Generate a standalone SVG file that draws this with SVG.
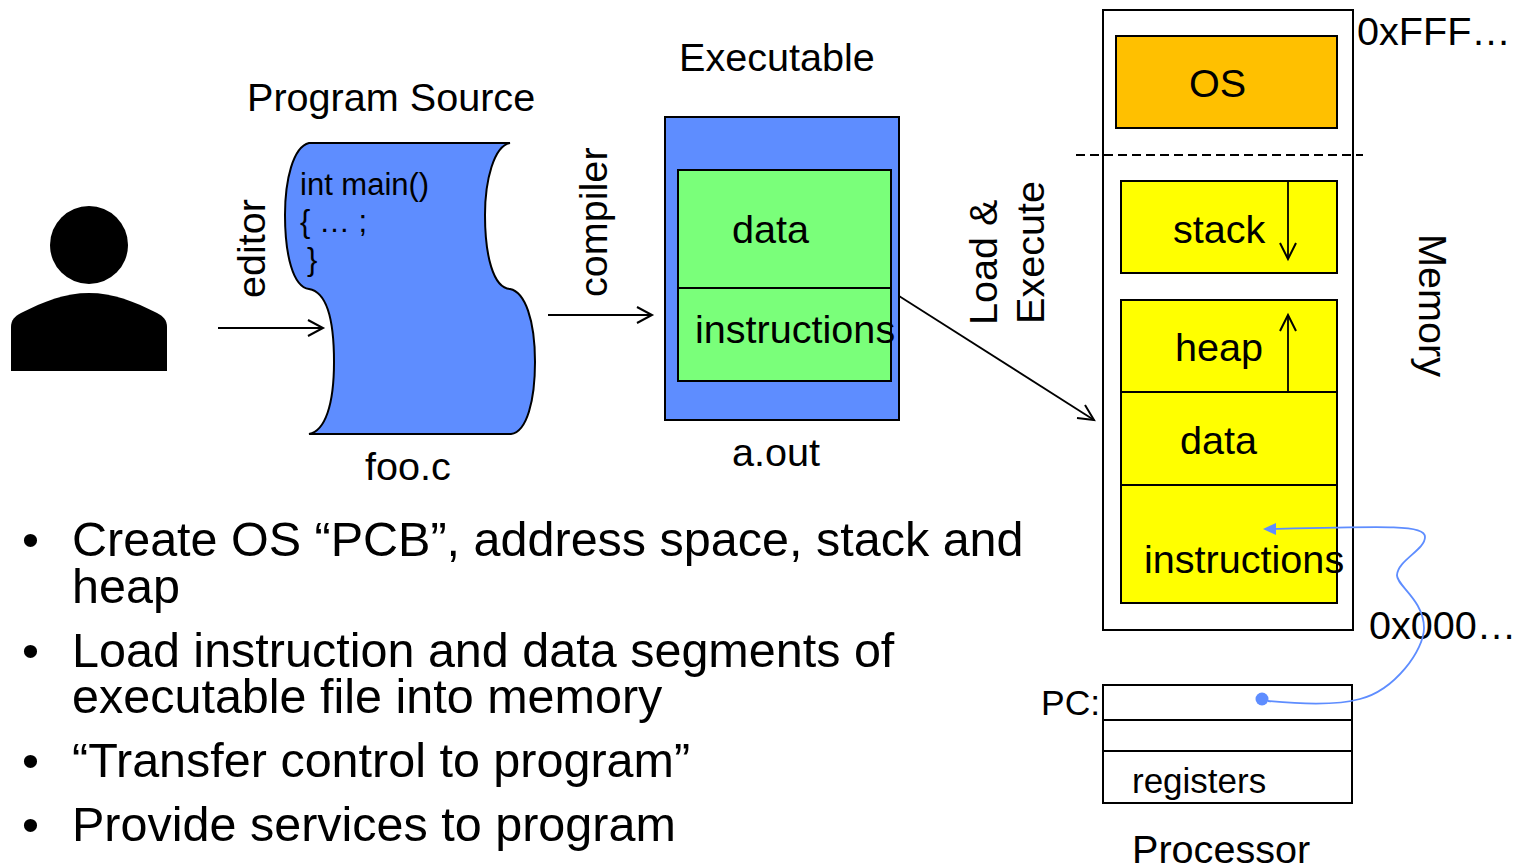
<svg xmlns="http://www.w3.org/2000/svg" width="1520" height="868" viewBox="0 0 1520 868">
<style>
text{font-family:"Liberation Sans",Arial,sans-serif;fill:#000}
.s{stroke:#000;stroke-width:2}
.l{font-size:39.6px}.m{font-size:35.5px}.b{font-size:48.5px}
.c{fill:none;stroke:#000;stroke-width:1.8}
.h{fill:none;stroke:#000;stroke-width:2}
</style>
<rect width="1520" height="868" fill="#fff"/>
<g id="user"><circle cx="89" cy="245" r="39"/><path d="M11 371V327C11 320 15 316 21 313C45 301 65 293 89 293C113 293 133 301 157 313C163 316 167 320 167 327V371Z"/></g>
<g id="source">
<path class="s" fill="#5e8dff" d="M309 143H510C494 146 485 180 485 215C485 255 493 288 510 289C525 292 535 320 535 362C535 400 527 432 511 434H309C325 431 334 405 334 362C334 320 327 292 309 289C293 287 285 255 285 215C285 180 293 147 309 143Z"/>
<text x="300" y="195" font-size="31">int main()</text>
<text x="300" y="232" font-size="31">{ … ;</text>
<text x="307" y="270" font-size="31">}</text>
<text class="l" x="247" y="111">Program Source</text>
<text class="l" x="365" y="480">foo.c</text>
</g>
<g id="executable">
<rect class="s" x="665" y="117" width="234" height="303" fill="#5e8dff"/>
<rect class="s" x="678" y="170" width="213" height="118" fill="#7aff7a"/>
<rect class="s" x="678" y="288" width="213" height="93" fill="#7aff7a"/>
<text class="l" x="679" y="71">Executable</text>
<text class="l" x="732" y="243">data</text>
<text class="l" x="695" y="343">instructions</text>
<text class="l" x="732" y="466">a.out</text>
</g>
<g id="memory">
<rect class="s" x="1103" y="10" width="250" height="620" fill="#fff"/>
<rect class="s" x="1116" y="36" width="221" height="92" fill="#ffc000"/>
<rect class="s" x="1121" y="181" width="216" height="92" fill="#ff0"/>
<rect class="s" x="1121" y="300" width="216" height="92" fill="#ff0"/>
<rect class="s" x="1121" y="392" width="216" height="93" fill="#ff0"/>
<rect class="s" x="1121" y="485" width="216" height="118" fill="#ff0"/>
<text class="l" x="1189" y="97">OS</text>
<text class="l" x="1173" y="243">stack</text>
<text class="l" x="1175" y="361">heap</text>
<text class="l" x="1180" y="454">data</text>
<text class="l" x="1144" y="573">instructions</text>
<text class="l" x="1357" y="45">0xFFF…</text>
<text class="l" x="1369" y="639">0x000…</text>
<text class="l" transform="translate(1419 234) rotate(90)">Memory</text>
</g>
<g id="processor">
<rect class="s" x="1103" y="685" width="249" height="35" fill="#fff"/>
<rect class="s" x="1103" y="720" width="249" height="31" fill="#fff"/>
<rect class="s" x="1103" y="751" width="249" height="52" fill="#fff"/>
<text class="m" x="1041" y="715">PC:</text>
<text x="1132" y="793" font-size="35">registers</text>
<text class="l" x="1132" y="863">Processor</text>
</g>
<g id="connectors">
<path class="c" d="M218 328H323"/><path class="h" d="M308 320L323 328L308 336"/>
<path class="c" d="M548 315H652"/><path class="h" d="M637 307L652 315L637 323"/>
<path class="c" d="M899 296L1094 420"/><path class="h" d="M1077 418L1094 420L1085 405"/>
<path class="c" d="M1076 155H1363" stroke-dasharray="9 5"/>
<path class="c" d="M1288 181V259"/><path class="h" d="M1280 243L1288 259L1296 243"/>
<path class="c" d="M1288 392V315"/><path class="h" d="M1280 331L1288 315L1296 331"/>
<path fill="none" stroke="#5e8dff" stroke-width="1.8" d="M1268 701C1300 704 1335 706 1360 699C1395 690 1424 650 1424 628C1424 600 1396 585 1397 575C1398 560 1425 550 1425 537C1425 525 1390 526 1275 529"/>
<circle cx="1262" cy="699" r="6.5" fill="#5e8dff"/>
<path d="M1263 529L1276 523V535Z" fill="#5e8dff"/>
<text class="l" transform="translate(265 298) rotate(-90)">editor</text>
<text class="l" transform="translate(607 297) rotate(-90)">compiler</text>
<text class="l" transform="translate(997 325) rotate(-90)">Load &amp;</text>
<text class="l" transform="translate(1044 324) rotate(-90)">Execute</text>
</g>
<g id="bullets">
<text class="b" x="22" y="556">•</text><text class="b" x="72" y="556">Create OS “PCB”, address space, stack and</text>
<text class="b" x="72" y="603">heap</text>
<text class="b" x="22" y="667">•</text><text class="b" x="72" y="667">Load instruction and data segments of</text>
<text class="b" x="72" y="713">executable file into memory</text>
<text class="b" x="22" y="777">•</text><text class="b" x="72" y="777">“Transfer control to program”</text>
<text class="b" x="22" y="841">•</text><text class="b" x="72" y="841">Provide services to program</text>
</g>
</svg>
